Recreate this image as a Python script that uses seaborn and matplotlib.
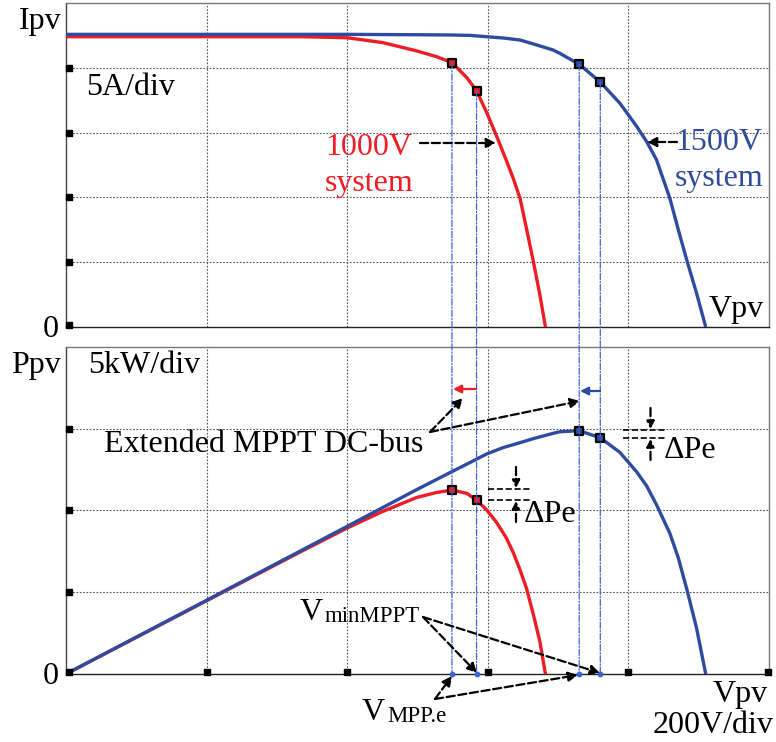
import numpy as np
import pandas as pd
import matplotlib
matplotlib.use("Agg")
import matplotlib.pyplot as plt
from matplotlib.patches import ConnectionPatch, FancyArrowPatch
from matplotlib.lines import Line2D
import seaborn as sns

# ---------------- data ----------------
red_v = [0, 200, 333, 400, 451, 499, 527, 549, 570, 584, 598, 612, 626, 636, 646, 655, 665, 674, 682]
red_i = [22.4, 22.4, 22.4, 22.32, 21.94, 21.3, 20.86, 20.4, 19.25, 18.23, 16.6, 14.8, 12.9, 11.5, 9.9, 7.6, 5.0, 2.5, 0.0]
red_p = [0, 4.48, 7.46, 8.93, 9.95, 10.8, 11.1, 11.25, 11.05, 10.64, 10.05, 9.3, 8.35, 7.45, 6.35, 5.25, 3.6, 2.0, 0.0]

blue_v = [0, 200, 400, 499, 550, 575, 598, 622, 646, 665, 693, 703, 730, 760, 788, 812, 826, 840, 859, 871, 883, 897, 910]
blue_i = [22.58, 22.58, 22.58, 22.55, 22.53, 22.5, 22.4, 22.3, 22.14, 21.84, 21.37, 21.1, 20.27, 18.9, 17.26, 15.46, 14.3, 12.9, 9.93, 7.5, 5.17, 2.6, 0.0]
blue_p = [0, 4.51, 9.03, 11.28, 12.4, 12.94, 13.45, 13.85, 14.15, 14.4, 14.72, 14.82, 14.88, 14.45, 13.55, 12.35, 11.5, 10.35, 8.6, 7.1, 5.2, 2.8, 0.0]

red_mark_v = [549, 584]
red_mark_i = [20.4, 18.23]
red_mark_p = [11.25, 10.64]
blue_mark_v = [730, 760]
blue_mark_i = [20.27, 18.9]
blue_mark_p = [14.88, 14.45]

v_grid = [200, 400, 600, 800]
i_grid = [5, 10, 15, 20]
p_grid = [5, 10, 15]

RED = "#ee1c25"
BLUE = "#2e4b9f"
VBLUE = "#3f63d0"

sns.set_style("white")
plt.rcParams["font.family"] = ["Liberation Serif", "DejaVu Serif"]

W, H = 776, 742
fig = plt.figure(figsize=(W / 100, H / 100), dpi=100)
ax1 = fig.add_axes([66 / W, 1 - 327 / H, 703 / W, 324 / H])
ax2 = fig.add_axes([66 / W, 1 - 674 / H, 703 / W, 327 / H])

df_red = pd.DataFrame({"V": red_v, "I": red_i, "P": red_p})
df_blue = pd.DataFrame({"V": blue_v, "I": blue_i, "P": blue_p})

for ax, ymax, grid_y in [(ax1, 25, i_grid), (ax2, 20, p_grid)]:
    ax.set_xlim(0, 1000)
    ax.set_ylim(0, ymax)
    for gx in v_grid:
        ax.axvline(gx, color="#555555", ls=(0, (1.5, 1.5)), lw=0.8, zorder=0)
    for gy in grid_y:
        ax.axhline(gy, color="#555555", ls=(0, (1.5, 1.5)), lw=0.8, zorder=0)
    ax.set_xticks([])
    ax.set_yticks([])
    for s in ax.spines.values():
        s.set_color("#777777")
        s.set_linewidth(1.0)
    ax.spines["bottom"].set_color("#222222")
    ax.spines["left"].set_color("#444444")

sns.lineplot(data=df_red, x="V", y="I", ax=ax1, color=RED, lw=2.4, sort=False, zorder=3)
sns.lineplot(data=df_blue, x="V", y="I", ax=ax1, color=BLUE, lw=2.4, sort=False, zorder=4)
sns.lineplot(data=df_red, x="V", y="P", ax=ax2, color=RED, lw=2.4, sort=False, zorder=3)
sns.lineplot(data=df_blue, x="V", y="P", ax=ax2, color=BLUE, lw=2.4, sort=False, zorder=4)
for ax in (ax1, ax2):
    ax.set_xlabel("")
    ax.set_ylabel("")
    for ln in ax.lines:
        ln.set_solid_joinstyle("round")
        ln.set_solid_capstyle("butt")

# vertical dash-dot connectors
for vs, ims in [(red_mark_v, red_mark_i), (blue_mark_v, blue_mark_i)]:
    for v, i in zip(vs, ims):
        con = ConnectionPatch(xyA=(v, i), coordsA=ax1.transData, xyB=(v, 0), coordsB=ax2.transData,
                              color=VBLUE, lw=0.9, ls=(0, (5, 1.5, 1, 1.5)), zorder=2)
        fig.add_artist(con)
        ax2.scatter([v], [0], s=10, color=VBLUE, zorder=6, clip_on=False)

# markers on curves
mk = dict(marker="s", s=26, edgecolor="black", linewidth=1.6, zorder=7)
ax1.scatter(red_mark_v, red_mark_i, facecolor=RED, **mk)
ax1.scatter(blue_mark_v, blue_mark_i, facecolor=BLUE, **mk)
ax2.scatter(red_mark_v, red_mark_p, facecolor=RED, **mk)
ax2.scatter(blue_mark_v, blue_mark_p, facecolor=BLUE, **mk)

# square tick marks
sq = dict(marker="s", s=14, color="black", zorder=8, clip_on=False)
ax1.scatter([4] * 5, [0.15, 5, 10, 15, 20], **sq)
ax2.scatter([4] * 4, [0.12, 5, 10, 15], **sq)
ax2.scatter([200, 400, 600, 800, 998], [0.12] * 5, **sq)

FS = 23
SUB = 16.5


def T(x, y, s, size=FS, color="black", ha="left", va="baseline"):
    fig.text(x / W, 1 - y / H, s, fontsize=size, color=color, ha=ha, va=va)


def A(x0, y0, x1, y1, color="black", ls="--", lw=1.6, ms=14):
    fig.add_artist(FancyArrowPatch(
        (x0 / W, 1 - y0 / H), (x1 / W, 1 - y1 / H), transform=fig.transFigure,
        arrowstyle="-|>", mutation_scale=ms, color=color, linestyle=ls, lw=lw,
        shrinkA=0, shrinkB=0, zorder=10))


def L(x0, y0, x1, y1, color="black", ls="--", lw=1.2):
    fig.add_artist(Line2D([x0 / W, x1 / W], [1 - y0 / H, 1 - y1 / H],
                          transform=fig.transFigure, color=color, ls=ls, lw=lw))


# top panel texts
T(61, 29, "Ipv", ha="right")
T(59, 337, "0", ha="right")
T(86, 95, "5A/div")
T(325, 155, "1000V", color=RED)
T(325, 191, "system", color=RED)
A(420, 143, 496, 143)
T(675, 150, "1500V", color=BLUE)
T(675, 186, "system", color=BLUE)
A(677, 142, 647, 142)
T(764, 317, "Vpv", ha="right")

# bottom panel texts
T(61, 373, "Ppv", ha="right")
T(88, 373, "5kW/div")
T(59, 684, "0", ha="right")
T(104, 452, "Extended MPPT DC-bus")
A(430, 432, 463, 398)
A(430, 432, 580, 401)
A(476, 389, 453, 389, color=RED, ls="-", lw=1.6, ms=12)
A(600, 391, 580, 391, color=BLUE, ls="-", lw=1.6, ms=12)

# delta Pe (blue)
L(623, 430, 665, 430)
L(623, 438, 665, 438)
A(650.5, 408, 650.5, 429, ms=11)
A(650.5, 460, 650.5, 439, ms=11)
T(664, 458, "\u0394Pe")
# delta Pe (red)
L(488, 489, 530, 489)
L(488, 500, 530, 500)
A(516, 467, 516, 488, ms=11)
A(516, 522, 516, 501, ms=11)
T(524, 522, "\u0394Pe")

# V_minMPPT
T(300, 620, "V")
T(325, 622, "minMPPT", size=SUB)
A(423, 617, 477, 673)
A(423, 617, 600, 673)

# V_MPP.e
T(362, 720, "V")
T(387, 722, "MPP.e", size=SUB)
A(435, 699, 452, 676)
A(435, 699, 578, 675)

T(768, 702, "Vpv", ha="right")
T(773, 733, "200V/div", ha="right")

fig.savefig("out.png", dpi=100)
